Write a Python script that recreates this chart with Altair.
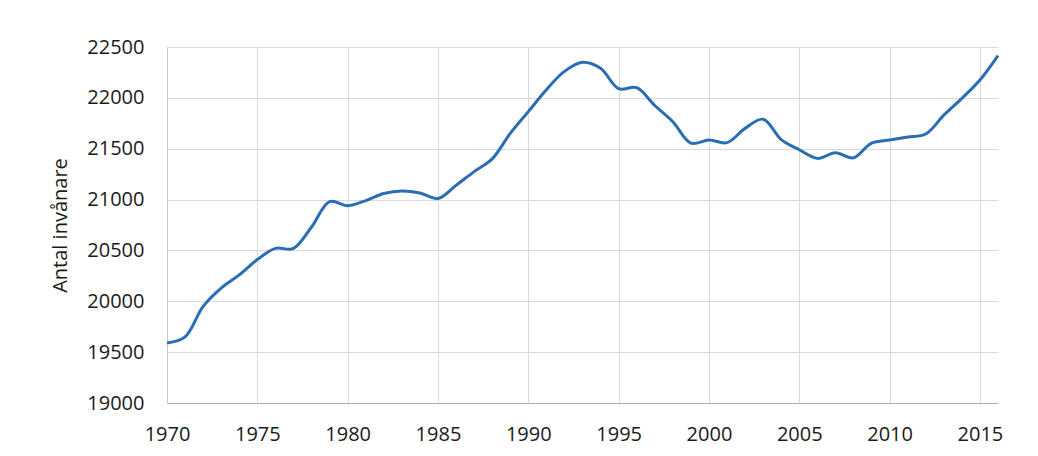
import altair as alt
import pandas as pd

years = list(range(1970, 2017))
population = [
    19590, 19650, 19950, 20130, 20260, 20410, 20520, 20520, 20730, 20980,
    20940, 20990, 21060, 21085, 21065, 21010, 21140, 21275, 21400, 21650,
    21865, 22080, 22260, 22350, 22290, 22090, 22100, 21925, 21765, 21555,
    21585, 21560, 21700, 21790, 21590, 21490, 21405, 21460, 21410, 21555,
    21585, 21615, 21645, 21830, 21995, 22175, 22415,
]
x_ticks = [1970, 1975, 1980, 1985, 1990, 1995, 2000, 2005, 2010, 2015]
y_ticks = [19000, 19500, 20000, 20500, 21000, 21500, 22000, 22500]

df = pd.DataFrame({"year": years, "pop": population})

FONT = "Open Sans"

chart = (
    alt.Chart(df)
    .mark_line(color="#2a6db4", strokeWidth=3, interpolate="catmull-rom")
    .encode(
        x=alt.X(
            "year:Q",
            scale=alt.Scale(domain=[1970, 2016], nice=False, zero=False),
            axis=alt.Axis(
                values=x_ticks,
                format="d",
                title=None,
                grid=True,
                gridColor="#d9d9d9",
                gridWidth=1,
                domain=True,
                domainColor="#b0b0b0",
                ticks=False,
                labelPadding=21,
                labelFontSize=20,
                labelFont=FONT,
                labelColor="#1a1a1a",
                labelFlush=False,
            ),
        ),
        y=alt.Y(
            "pop:Q",
            scale=alt.Scale(domain=[19000, 22500], nice=False, zero=False),
            axis=alt.Axis(
                values=y_ticks,
                format="d",
                title="Antal invånare",
                titleFont=FONT,
                titleFontSize=20,
                titleFontWeight="normal",
                titleColor="#1a1a1a",
                titleX=-107,
                titleY=178,
                titleAngle=-90,
                titleAlign="center",
                titleBaseline="middle",
                grid=True,
                gridColor="#d9d9d9",
                gridWidth=1,
                domain=True,
                domainColor="#c8c8c8",
                ticks=False,
                labelPadding=23,
                labelFontSize=20,
                labelFont=FONT,
                labelColor="#1a1a1a",
            ),
        ),
    )
    .properties(
        width=831,
        height=356,
        autosize=alt.AutoSizeParams(type="none"),
        padding={"left": 159, "top": 39, "right": 30, "bottom": 52},
        background="white",
    )
    .configure_view(stroke=None)
)

chart.save("out.html", embed_options={"renderer": "svg", "actions": False})
